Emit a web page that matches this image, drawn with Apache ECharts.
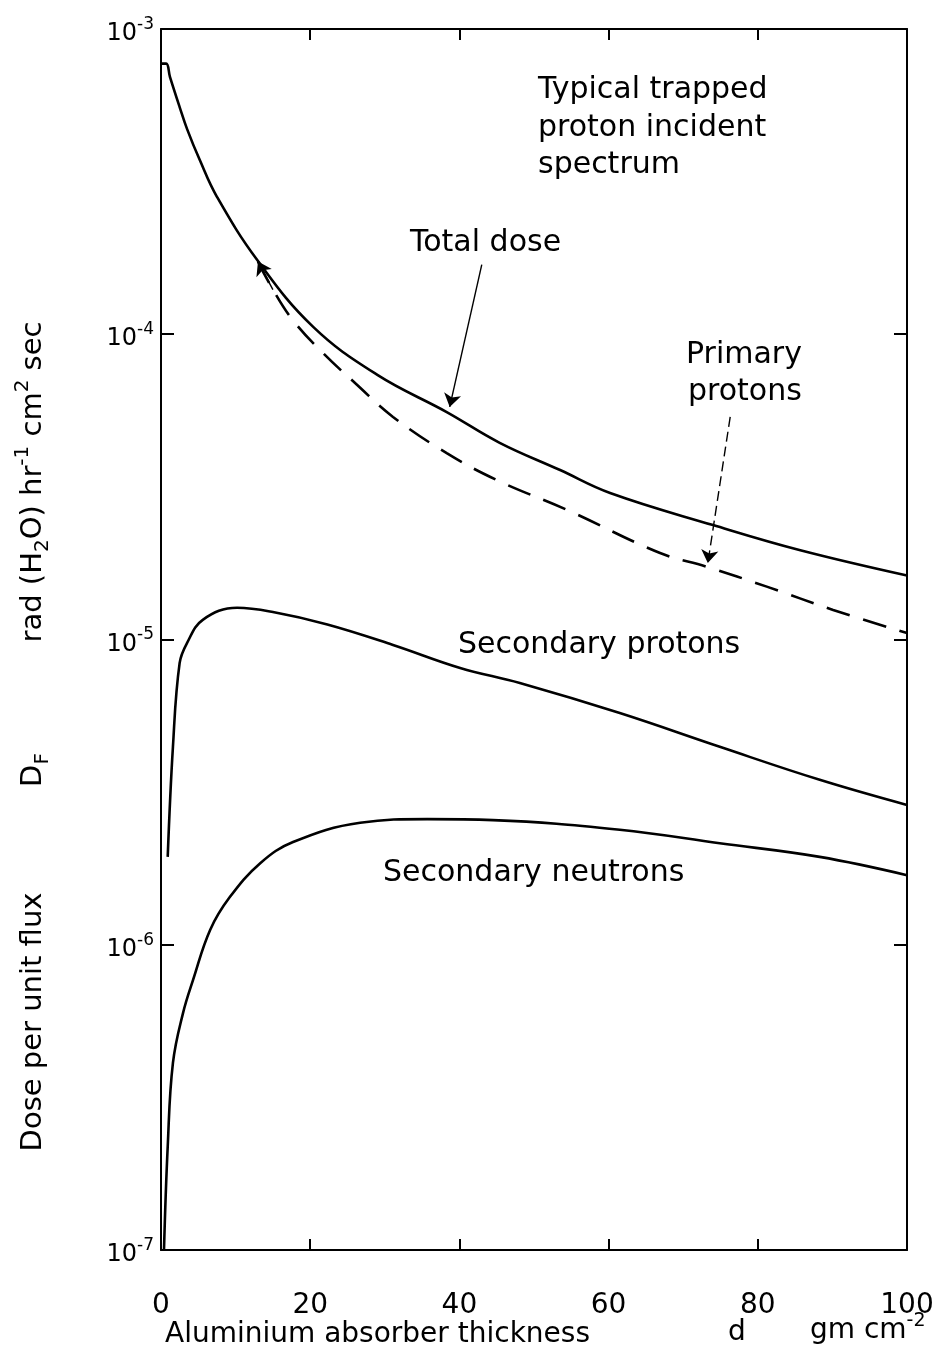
<!DOCTYPE html>
<html>
<head>
<meta charset="utf-8">
<script src="https://cdn.jsdelivr.net/npm/echarts@6/dist/echarts.min.js"></script>
<style>
html,body{margin:0;padding:0;background:#fff;}
#chart{width:946px;height:1350px;}
</style>
</head>
<body>
<div id="chart"></div>
<script>
// ---- data ----
const xTicks = [0, 20, 40, 60, 80, 100];
const yTickExponents = [-7, -6, -5, -4, -3];

const totalD   = [0, 0.7, 1.2, 2.5, 3.5, 5.2, 7.5, 12.9, 20.4, 29, 38.3, 45.4, 53.5, 60.2, 74, 85.7, 100];
const totalV   = [7.7e-4, 7.7e-4, 6.97e-4, 5.55e-4, 4.7e-4, 3.72e-4, 2.82e-4, 1.75e-4, 1.057e-4, 7.36e-5, 5.56e-5, 4.41e-5, 3.59e-5, 3.02e-5, 2.37e-5, 1.96e-5, 1.62e-5];

const primaryD = [13.0, 15.0, 17.7, 21.7, 26.3, 31.1, 38.3, 45.0, 54.4, 66.9, 73.2, 81.2, 90.1, 100];
const primaryV = [1.73e-4, 1.40e-4, 1.11e-4, 8.69e-5, 6.82e-5, 5.36e-5, 4.08e-5, 3.33e-5, 2.66e-5, 1.92e-5, 1.73e-5, 1.49e-5, 1.25e-5, 1.05e-5];

const secProtD = [0.9, 1.6, 2.5, 3.5, 5.6, 10.2, 15.0, 22.3, 31.1, 40.1, 48.1, 61.5, 74.9, 88.3, 100];
const secProtV = [1.94e-6, 4.45e-6, 8.38e-6, 9.75e-6, 1.16e-5, 1.27e-5, 1.23e-5, 1.12e-5, 9.6e-6, 8.07e-6, 7.2e-6, 5.74e-6, 4.45e-6, 3.47e-6, 2.87e-6];

const secNeutD = [0.4, 0.9, 1.6, 2.95, 4.3, 6.6, 9.2, 13.3, 17.7, 26.7, 35.7, 44.5, 61.5, 74.9, 88.3, 100];
const secNeutV = [1.0e-7, 2.18e-7, 4.1e-7, 5.97e-7, 7.67e-7, 1.12e-6, 1.43e-6, 1.85e-6, 2.17e-6, 2.51e-6, 2.58e-6, 2.56e-6, 2.38e-6, 2.15e-6, 1.94e-6, 1.69e-6];

// annotation arrows (data coordinates): [fromD, fromV, toD, toV]
const arrowTotal   = [43.0, 1.69e-4, 38.7, 5.78e-5];
const arrowPrimary = [76.3, 5.36e-5, 73.3, 1.78e-5];
const arrowDashStart = [15.0, 1.40e-4, 13.0, 1.73e-4];

// ---- chart ----
const FONT = '"DejaVu Sans", sans-serif';
const pair = (xs, ys) => xs.map((x, i) => [x, ys[i]]);
const chart = echarts.init(document.getElementById('chart'));

const axisLineStyle = {color: '#000', width: 2};
const xAxisCommon = {
  type: 'value', min: xTicks[0], max: xTicks[xTicks.length - 1], interval: 20,
  axisLine: {show: true, onZero: false, lineStyle: axisLineStyle},
  axisTick: {show: true, inside: true, length: 11, lineStyle: {color: '#000', width: 2}},
  splitLine: {show: false}
};
const yAxisCommon = {
  type: 'log', logBase: 10,
  min: Math.pow(10, yTickExponents[0]), max: Math.pow(10, yTickExponents[yTickExponents.length - 1]),
  axisLine: {show: true, onZero: false, lineStyle: axisLineStyle},
  axisTick: {show: true, inside: true, length: 13, lineStyle: {color: '#000', width: 2}},
  splitLine: {show: false}
};

const lineSeries = (name, data, dashed) => ({
  name, type: 'line', data, showSymbol: false, smooth: 0.4,
  lineStyle: {color: '#000', width: 2.6, type: dashed ? [24, 14] : 'solid'},
  silent: true, z: 3
});

const arrowItem = (a, dashed) => [
  {coord: [a[0], a[1]], lineStyle: {color: '#000', width: 1.4, type: dashed ? [10, 5] : 'solid'}},
  {coord: [a[2], a[3]]}
];

const txt = (text, x, y, size) => ({
  type: 'text', x, y, silent: true,
  style: {text, fill: '#000', fontSize: size || 30, fontFamily: FONT, align: 'left', verticalAlign: 'middle'}
});

const richBase = {fontSize: 29, fontFamily: FONT, fill: '#000', lineHeight: 40};
const richSub = {fontSize: 20, fontFamily: FONT, fill: '#000', lineHeight: 20, verticalAlign: 'bottom'};
const richSup = {fontSize: 20, fontFamily: FONT, fill: '#000', lineHeight: 20, verticalAlign: 'top'};

chart.setOption({
  animation: false,
  backgroundColor: '#fff',
  grid: {left: 161, top: 29, right: 39, bottom: 100, containLabel: false},
  xAxis: [
    Object.assign({}, xAxisCommon, {
      position: 'bottom',
      axisLabel: {show: true, color: '#000', fontSize: 28, fontFamily: FONT, margin: 42}
    }),
    Object.assign({}, xAxisCommon, {position: 'top', axisLabel: {show: false}})
  ],
  yAxis: [
    Object.assign({}, yAxisCommon, {
      position: 'left',
      axisLabel: {
        show: true, margin: 7, padding: [10, 0, 0, 0],
        formatter: v => '{b|10}{s|' + Math.round(Math.log10(v)) + '}',
        rich: {
          b: {fontSize: 24, fontFamily: FONT, color: '#000', lineHeight: 36},
          s: {fontSize: 17, fontFamily: FONT, color: '#000', lineHeight: 17, verticalAlign: 'top'}
        }
      }
    }),
    Object.assign({}, yAxisCommon, {position: 'right', axisLabel: {show: false}})
  ],
  series: [
    Object.assign(lineSeries('Total dose', pair(totalD, totalV), false), {
      markLine: {
        silent: true, symbol: ['none', 'arrow'], symbolSize: 13, animation: false,
        label: {show: false},
        data: [arrowItem(arrowTotal, false), arrowItem(arrowPrimary, true), arrowItem(arrowDashStart, false)]
      }
    }),
    lineSeries('Primary protons', pair(primaryD, primaryV), true),
    lineSeries('Secondary protons', pair(secProtD, secProtV), false),
    lineSeries('Secondary neutrons', pair(secNeutD, secNeutV), false)
  ],
  graphic: [
    txt('Typical trapped', 538, 90),
    txt('proton incident', 538, 128),
    txt('spectrum', 538, 165),
    txt('Total dose', 410, 243),
    txt('Primary', 686, 355),
    txt('protons', 688, 392),
    txt('Secondary protons', 458, 645),
    txt('Secondary neutrons', 383, 873),
    txt('Aluminium absorber thickness', 165, 1335, 28),
    txt('d', 728, 1333, 28),
    {
      type: 'text', x: 810, y: 1331, silent: true,
      style: {
        text: '{b|gm cm}{p|-2}', align: 'left', verticalAlign: 'middle',
        rich: {
          b: {fontSize: 28, fontFamily: FONT, fill: '#000', lineHeight: 38},
          p: {fontSize: 19, fontFamily: FONT, fill: '#000', lineHeight: 19, verticalAlign: 'top'}
        }
      }
    },
    {
      type: 'text', x: 33, y: 1022, rotation: Math.PI / 2, silent: true,
      style: {text: 'Dose per unit flux', fill: '#000', fontSize: 29, fontFamily: FONT, align: 'center', verticalAlign: 'middle'}
    },
    {
      type: 'text', x: 33, y: 770, rotation: Math.PI / 2, silent: true,
      style: {text: '{b|D}{d|F}', align: 'center', verticalAlign: 'middle', rich: {b: richBase, d: richSub}}
    },
    {
      type: 'text', x: 33, y: 482, rotation: Math.PI / 2, silent: true,
      style: {
        text: '{b|rad (H}{d|2}{b|O) hr}{p|-1}{b| cm}{p|2}{b| sec}',
        align: 'center', verticalAlign: 'middle',
        rich: {b: richBase, d: richSub, p: richSup}
      }
    }
  ]
});
</script>
</body>
</html>
